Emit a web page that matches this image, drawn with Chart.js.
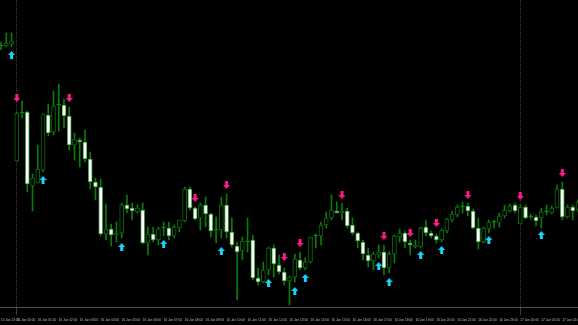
<!DOCTYPE html>
<html lang="en">
<head>
<meta charset="UTF-8">
<title>Candles M15</title>
<script src="https://cdn.jsdelivr.net/npm/chart.js"></script>
<style>
    html, body { margin: 0; padding: 0; background: #000; overflow: hidden; }
    canvas { display: block; }
</style>
</head>
<body>
<canvas id="chart" width="578" height="325"></canvas>
<script>
// OHLC, one entry per bar (bar 0 = left edge)
const opens = [
    1.0954, 1.0954, 1.0956, 1.0839, 1.0887, 1.0888, 1.0814, 1.0817, 1.0830, 1.0885,
    1.0868, 1.0895, 1.0895, 1.0884, 1.0855, 1.0860, 1.0858, 1.0841, 1.0818, 1.0813,
    1.0766, 1.0771, 1.0765, 1.0767, 1.0795, 1.0792, 1.0788, 1.0790, 1.0757, 1.0766,
    1.0760, 1.0772, 1.0772, 1.0764, 1.0772, 1.0779, 1.0811, 1.0792, 1.0782, 1.0795,
    1.0786, 1.0770, 1.0770, 1.0795, 1.0768, 1.0754, 1.0749, 1.0758, 1.0760, 1.0722,
    1.0718, 1.0730, 1.0752, 1.0735, 1.0728, 1.0719, 1.0723, 1.0740, 1.0732, 1.0738,
    1.0764, 1.0764, 1.0775, 1.0782, 1.0789, 1.0787, 1.0789, 1.0775, 1.0767, 1.0758,
    1.0745, 1.0739, 1.0745, 1.0748, 1.0732, 1.0746, 1.0763, 1.0767, 1.0757, 1.0753,
    1.0753, 1.0773, 1.0767, 1.0764, 1.0760, 1.0769, 1.0780, 1.0785, 1.0793, 1.0794,
    1.0789, 1.0772, 1.0758, 1.0771, 1.0778, 1.0777, 1.0784, 1.0789, 1.0795, 1.0776,
    1.0793, 1.0783, 1.0783, 1.0782, 1.0788, 1.0787, 1.0792, 1.0811, 1.0783, 1.0793,
    1.0790
];
const highs = [
    1.0958, 1.0967, 1.0967, 1.0888, 1.0899, 1.0889, 1.0826, 1.0855, 1.0886, 1.0896,
    1.0909, 1.0916, 1.0901, 1.0893, 1.0867, 1.0862, 1.0870, 1.0848, 1.0822, 1.0821,
    1.0796, 1.0776, 1.0778, 1.0797, 1.0805, 1.0797, 1.0795, 1.0797, 1.0773, 1.0773,
    1.0773, 1.0778, 1.0778, 1.0775, 1.0780, 1.0813, 1.0813, 1.0793, 1.0797, 1.0803,
    1.0787, 1.0783, 1.0803, 1.0806, 1.0782, 1.0758, 1.0763, 1.0782, 1.0765, 1.0732,
    1.0738, 1.0753, 1.0755, 1.0745, 1.0732, 1.0724, 1.0746, 1.0748, 1.0742, 1.0763,
    1.0766, 1.0778, 1.0788, 1.0805, 1.0798, 1.0797, 1.0792, 1.0782, 1.0768, 1.0760,
    1.0752, 1.0748, 1.0755, 1.0755, 1.0748, 1.0765, 1.0771, 1.0769, 1.0760, 1.0760,
    1.0773, 1.0780, 1.0769, 1.0766, 1.0771, 1.0782, 1.0789, 1.0795, 1.0798, 1.0797,
    1.0791, 1.0782, 1.0773, 1.0780, 1.0780, 1.0787, 1.0795, 1.0796, 1.0797, 1.0795,
    1.0795, 1.0786, 1.0785, 1.0792, 1.0795, 1.0794, 1.0815, 1.0818, 1.0795, 1.0795,
    1.0800
];
const lows = [
    1.0950, 1.0953, 1.0953, 1.0839, 1.0882, 1.0808, 1.0789, 1.0817, 1.0828, 1.0864,
    1.0865, 1.0869, 1.0872, 1.0850, 1.0840, 1.0833, 1.0838, 1.0811, 1.0800, 1.0764,
    1.0760, 1.0754, 1.0758, 1.0762, 1.0787, 1.0780, 1.0787, 1.0756, 1.0745, 1.0758,
    1.0755, 1.0764, 1.0760, 1.0762, 1.0768, 1.0778, 1.0790, 1.0780, 1.0770, 1.0773,
    1.0763, 1.0757, 1.0762, 1.0762, 1.0753, 1.0700, 1.0740, 1.0748, 1.0720, 1.0715,
    1.0717, 1.0725, 1.0723, 1.0726, 1.0715, 1.0695, 1.0718, 1.0730, 1.0730, 1.0737,
    1.0752, 1.0755, 1.0772, 1.0780, 1.0787, 1.0780, 1.0772, 1.0765, 1.0752, 1.0740,
    1.0733, 1.0730, 1.0742, 1.0725, 1.0727, 1.0737, 1.0758, 1.0752, 1.0745, 1.0752,
    1.0752, 1.0764, 1.0762, 1.0757, 1.0758, 1.0767, 1.0778, 1.0783, 1.0787, 1.0784,
    1.0771, 1.0751, 1.0757, 1.0767, 1.0772, 1.0773, 1.0782, 1.0788, 1.0787, 1.0776,
    1.0781, 1.0781, 1.0774, 1.0772, 1.0785, 1.0786, 1.0792, 1.0780, 1.0782, 1.0780,
    1.0788
];
const closes = [
    1.0954, 1.0957, 1.0959, 1.0887, 1.0887, 1.0816, 1.0822, 1.0831, 1.0886, 1.0867,
    1.0894, 1.0895, 1.0884, 1.0855, 1.0861, 1.0858, 1.0841, 1.0818, 1.0813, 1.0766,
    1.0771, 1.0765, 1.0767, 1.0795, 1.0791, 1.0789, 1.0792, 1.0757, 1.0766, 1.0760,
    1.0771, 1.0772, 1.0764, 1.0773, 1.0780, 1.0811, 1.0792, 1.0781, 1.0795, 1.0786,
    1.0769, 1.0770, 1.0795, 1.0768, 1.0755, 1.0748, 1.0759, 1.0758, 1.0722, 1.0718,
    1.0730, 1.0752, 1.0736, 1.0728, 1.0719, 1.0723, 1.0741, 1.0732, 1.0738, 1.0763,
    1.0764, 1.0775, 1.0782, 1.0790, 1.0787, 1.0789, 1.0774, 1.0767, 1.0759, 1.0746,
    1.0739, 1.0746, 1.0748, 1.0732, 1.0746, 1.0764, 1.0767, 1.0758, 1.0755, 1.0755,
    1.0772, 1.0767, 1.0764, 1.0760, 1.0770, 1.0781, 1.0786, 1.0793, 1.0793, 1.0789,
    1.0772, 1.0758, 1.0772, 1.0778, 1.0778, 1.0784, 1.0790, 1.0794, 1.0789, 1.0793,
    1.0782, 1.0783, 1.0779, 1.0788, 1.0788, 1.0792, 1.0811, 1.0783, 1.0793, 1.0789,
    1.0798
];

// signal arrows: bar index + price level
const upBars = [2, 8, 23, 31, 42, 51, 56, 58, 72, 74, 80, 84, 93, 103];
const upLevels = [1.0945, 1.0820, 1.0753, 1.0756, 1.0749, 1.0717, 1.0709, 1.0722, 1.0734, 1.0718, 1.0745, 1.0750, 1.0760, 1.0765];
const downBars = [3, 13, 37, 43, 54, 57, 65, 73, 78, 83, 89, 99, 107];
const downLevels = [1.0902, 1.0902, 1.0802, 1.0815, 1.0743, 1.0757, 1.0805, 1.0764, 1.0767, 1.0777, 1.0805, 1.0804, 1.0827];

// time axis
const tickBars = [0, 3, 7, 11, 15, 19, 23, 27, 31, 35, 39, 43, 47, 51, 55, 59, 63, 67, 71, 75, 79, 83, 87, 91, 95, 99, 103, 107];
const tickLabels = [
    '15 Jan 23:15', '16 Jan 00:00', '16 Jan 01:00', '16 Jan 02:00', '16 Jan 03:00', '16 Jan 04:00', '16 Jan 05:00',
    '16 Jan 06:00', '16 Jan 07:00', '16 Jan 08:00', '16 Jan 09:00', '16 Jan 10:00', '16 Jan 11:00', '16 Jan 12:00',
    '16 Jan 13:00', '16 Jan 14:00', '16 Jan 15:00', '16 Jan 16:00', '16 Jan 17:00', '16 Jan 18:00', '16 Jan 19:00',
    '16 Jan 20:00', '16 Jan 21:00', '16 Jan 22:00', '16 Jan 23:00', '17 Jan 00:00', '17 Jan 01:00', '17 Jan 02:00'
];
const daySeparators = [3, 99];

function arrowImage(color, up) {
    const c = document.createElement('canvas');
    c.width = 7;
    c.height = 8;
    const g = c.getContext('2d');
    g.fillStyle = color;
    g.beginPath();
    if (up) {
        g.moveTo(3.5, 0); g.lineTo(7, 4); g.lineTo(0, 4);
        g.closePath(); g.fill();
        g.fillRect(2, 4, 3, 4);
    } else {
        g.fillRect(2, 0, 3, 4);
        g.moveTo(0, 4); g.lineTo(7, 4); g.lineTo(3.5, 8);
        g.closePath(); g.fill();
    }
    return c;
}

const bars = opens.map((_, i) => i);
const isBull = i => closes[i] > opens[i];
const isDoji = i => closes[i] === opens[i];

new Chart(document.getElementById('chart'), {
    type: 'bar',
    data: {
        datasets: [
            {
                label: 'up',
                type: 'scatter',
                data: upBars.map((b, k) => ({x: b, y: upLevels[k]})),
                pointStyle: arrowImage('#19d3ff', true),
                pointRadius: 4,
                order: 1
            },
            {
                label: 'down',
                type: 'scatter',
                data: downBars.map((b, k) => ({x: b, y: downLevels[k]})),
                pointStyle: arrowImage('#ff1a8c', false),
                pointRadius: 4,
                order: 1
            },
            {
                label: 'body',
                data: bars.map(i => ({x: i, y: [opens[i], closes[i]]})),
                barThickness: 4,
                grouped: false,
                minBarLength: 1,
                borderWidth: 1,
                borderSkipped: false,
                backgroundColor: ctx => isDoji(ctx.dataIndex) ? '#0a8a0a' : (isBull(ctx.dataIndex) ? '#000000' : '#ffffff'),
                borderColor: ctx => isDoji(ctx.dataIndex) ? '#0a8a0a' : (isBull(ctx.dataIndex) ? '#0a6a0a' : '#3a9a3a'),
                order: 2
            },
            {
                label: 'wick',
                data: bars.map(i => ({x: i, y: [lows[i], highs[i]]})),
                barThickness: 1,
                grouped: false,
                backgroundColor: '#0a7c0a',
                order: 3
            }
        ]
    },
    options: {
        responsive: false,
        animation: false,
        events: [],
        layout: { padding: 0, autoPadding: false },
        plugins: {
            legend: { display: false },
            tooltip: { enabled: false }
        },
        scales: {
            x: {
                type: 'linear',
                min: -0.2,
                max: 110,
                offset: false,
                afterBuildTicks: s => { s.ticks = tickBars.map(v => ({value: v})); },
                afterFit: s => { s.height = 18; s.paddingLeft = 0; s.paddingRight = 0; },
                grid: {
                    offset: false,
                    color: ctx => (ctx.tick && daySeparators.includes(ctx.tick.value)) ? '#3c3c3c' : 'rgba(0,0,0,0)',
                    lineWidth: 1,
                    drawTicks: true,
                    tickLength: 8
                },
                border: { display: true, color: '#505050', width: 1, dash: [1, 1] },
                ticks: {
                    autoSkip: false,
                    maxRotation: 0,
                    align: 'start',
                    padding: 0,
                    color: '#bdbdbd',
                    font: { size: 3.2, family: "'Liberation Sans Narrow', 'Liberation Sans'", lineHeight: '10px' },
                    callback: (v, i) => tickLabels[i]
                }
            },
            y: {
                display: false,
                min: 1.0693,
                max: 1.1000
            }
        }
    }
});
</script>
</body>
</html>
